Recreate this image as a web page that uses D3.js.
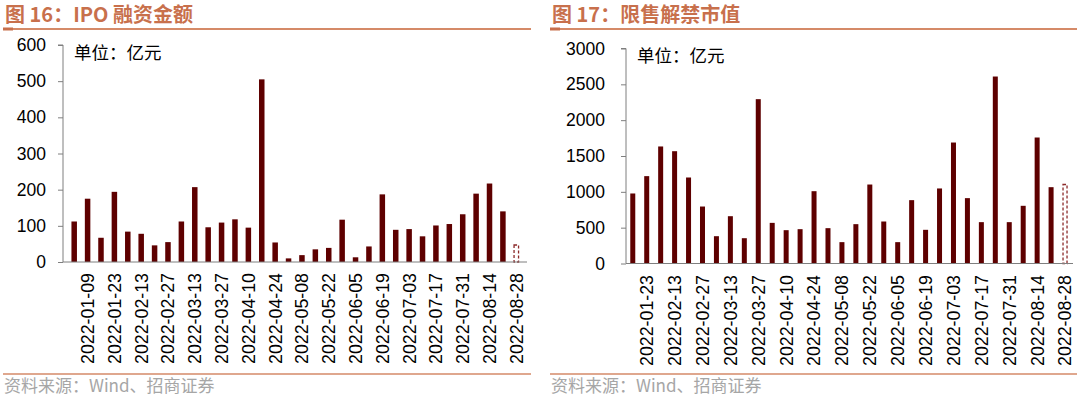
<!DOCTYPE html>
<html>
<head>
<meta charset="utf-8">
<script src="https://cdn.jsdelivr.net/npm/d3@7"></script>
<style>
  html, body { margin: 0; padding: 0; background: #fff; }
  svg { display: block; }
</style>
</head>
<body>
<svg id="chart" width="1080" height="399"></svg>
<script>
// ---------------- DATA ----------------
const ipoDates = ["2022-01-02","2022-01-09","2022-01-16","2022-01-23","2022-01-30","2022-02-13","2022-02-20","2022-02-27","2022-03-06","2022-03-13","2022-03-20","2022-03-27","2022-04-03","2022-04-10","2022-04-17","2022-04-24","2022-05-01","2022-05-08","2022-05-15","2022-05-22","2022-05-29","2022-06-05","2022-06-12","2022-06-19","2022-06-26","2022-07-03","2022-07-10","2022-07-17","2022-07-24","2022-07-31","2022-08-07","2022-08-14","2022-08-21","2022-08-28"];
const ipoValues = [112,175,67,194,84,78,46,55,112,207,96,109,118,95,505,54,10,19,35,39,117,13,43,187,89,91,71,101,105,132,189,217,140,47];
const ipoTicks = [0,100,200,300,400,500,600];

const unlockDates = ["2022-01-16","2022-01-23","2022-01-30","2022-02-13","2022-02-20","2022-02-27","2022-03-06","2022-03-13","2022-03-20","2022-03-27","2022-04-03","2022-04-10","2022-04-17","2022-04-24","2022-05-01","2022-05-08","2022-05-15","2022-05-22","2022-05-29","2022-06-05","2022-06-12","2022-06-19","2022-06-26","2022-07-03","2022-07-10","2022-07-17","2022-07-24","2022-07-31","2022-08-07","2022-08-14","2022-08-21","2022-08-28"];
const unlockValues = [977,1219,1633,1567,1200,795,381,660,353,2293,567,465,479,1009,493,298,549,1102,586,298,884,470,1047,1688,912,577,2609,577,805,1758,1065,1102];
const unlockTicks = [0,500,1000,1500,2000,2500,3000];

const titles = ["图 16：IPO 融资金额", "图 17：限售解禁市值"];
const unitLabel = "单位：亿元";
const sourceLabel = "资料来源：Wind、招商证券";

// ---------------- STYLE ----------------
const BAR = "#5e0000";
const TITLE_C = "#c8704c";
const RULE_C = "#d58a68";
const AXIS_C = "#7f7f7f";
const NUM_FONT = "'Liberation Sans', Arial, sans-serif";
const CJK_FONT = "'Noto Sans CJK SC', 'Noto Sans', sans-serif";

const svg = d3.select("#chart");

function panel(cfg) {
  const g = svg.append("g");
  // title
  g.append("text")
    .attr("x", cfg.left).attr("y", 21.5)
    .attr("font-family", CJK_FONT).attr("font-weight", "bold")
    .attr("font-size", 20).attr("fill", TITLE_C)
    .text(cfg.title);
  g.append("line")
    .attr("x1", cfg.left - 2).attr("x2", cfg.right)
    .attr("y1", 29).attr("y2", 29)
    .attr("stroke", RULE_C).attr("stroke-width", 2);
  g.append("rect").attr("x", cfg.left - 2).attr("y", 27.5).attr("width", 10).attr("height", 3).attr("fill", TITLE_C);
  // bottom rule + source
  g.append("line")
    .attr("x1", cfg.left - 2).attr("x2", cfg.right)
    .attr("y1", 374).attr("y2", 374)
    .attr("stroke", RULE_C).attr("stroke-width", 1.5);
  g.append("text")
    .attr("x", cfg.left - 1).attr("y", 391.5)
    .attr("font-family", CJK_FONT).attr("font-size", 17).attr("fill", "#a6a6a6")
    .text(sourceLabel);

  const y = d3.scaleLinear().domain([cfg.ticks[0], cfg.ticks[cfg.ticks.length - 1]]).range([cfg.y0, cfg.y1]);
  const x = d3.scaleBand().domain(cfg.dates).range([cfg.bx0, cfg.bx1]).padding(0);

  // y axis
  const ya = g.append("g").attr("transform", `translate(${cfg.ax},0)`)
    .call(d3.axisLeft(y).tickValues(cfg.ticks).tickSize(5).tickPadding(cfg.tickPad).tickFormat(d3.format("d")));
  ya.select(".domain").attr("stroke", AXIS_C).attr("d", `M-5,${cfg.y1}H0V${cfg.y0}`);
  ya.selectAll(".tick line").attr("stroke", AXIS_C);
  ya.selectAll("text").attr("font-family", NUM_FONT).attr("font-size", 17.5).attr("fill", "#000");

  // bars
  const bw = cfg.barW;
  const n = cfg.values.length;
  g.selectAll("rect.bar").data(cfg.values.slice(0, n - 1)).enter().append("rect")
    .attr("class", "bar")
    .attr("x", (d, i) => x(cfg.dates[i]) + x.bandwidth() / 2 - bw / 2)
    .attr("y", d => y(d))
    .attr("width", bw)
    .attr("height", d => cfg.y0 - y(d))
    .attr("fill", BAR);
  // last (estimated) bar dashed
  const lv = cfg.values[n - 1];
  g.append("rect")
    .attr("x", x(cfg.dates[n - 1]) + x.bandwidth() / 2 - bw / 2 + 0.5)
    .attr("y", y(lv))
    .attr("width", bw - 1)
    .attr("height", cfg.y0 - y(lv))
    .attr("fill", "#fff").attr("stroke", "#8c2a2a").attr("stroke-width", 1.3)
    .attr("stroke-dasharray", "3,2");

  // x axis
  const xa = g.append("g").attr("transform", `translate(0,${cfg.y0})`)
    .call(d3.axisBottom(x).tickValues(cfg.dates.filter((d, i) => i % 2 === 1)).tickSize(0));
  xa.select(".domain").attr("stroke", AXIS_C).attr("d", `M${cfg.ax},0H${cfg.right - 4}`);
  xa.selectAll("text")
    .attr("font-family", NUM_FONT).attr("font-size", 17.8).attr("fill", "#000")
    .attr("transform", "rotate(-90)")
    .attr("x", -cfg.labOff).attr("y", 0).attr("dy", "0.36em")
    .attr("text-anchor", "end");

  // unit label
  g.append("text")
    .attr("x", cfg.ax + 11).attr("y", cfg.unitY)
    .attr("font-family", CJK_FONT).attr("font-size", 17.5).attr("fill", "#000")
    .text(unitLabel);
}

panel({
  title: titles[0], left: 5, right: 531,
  dates: ipoDates, values: ipoValues, ticks: ipoTicks,
  ax: 63, y0: 262, y1: 45, bx0: 67.5, bx1: 523, barW: 5.5,
  tickPad: 12, labOff: 11, unitY: 58.5
});
panel({
  title: titles[1], left: 552, right: 1077,
  dates: unlockDates, values: unlockValues, ticks: unlockTicks,
  ax: 626, y0: 263.5, y1: 48.5, bx0: 625.8, bx1: 1072, barW: 5,
  tickPad: 16, labOff: 11.5, unitY: 61.5
});
</script>
</body>
</html>
